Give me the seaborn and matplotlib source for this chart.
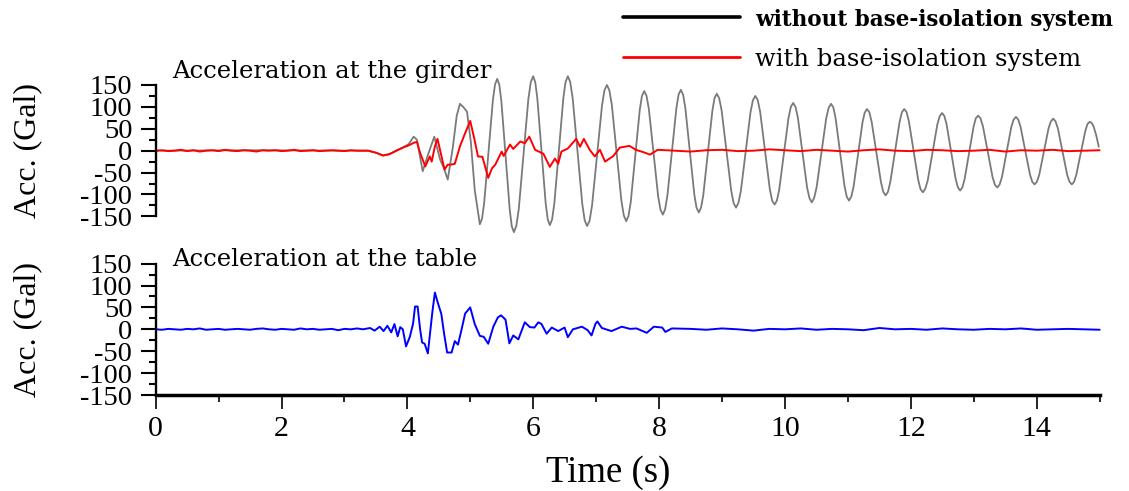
import numpy as np
import pandas as pd
import matplotlib
matplotlib.use("Agg")
import matplotlib.pyplot as plt
import seaborn as sns
from matplotlib.lines import Line2D
from matplotlib.ticker import MultipleLocator

# ---------------- data ----------------
series_labels = ["without base-isolation system", "with base-isolation system"]
panel_titles = ["Acceleration at the girder", "Acceleration at the table"]
y_ticks = [-150, -100, -50, 0, 50, 100, 150]
x_ticks = [0, 2, 4, 6, 8, 10, 12, 14]

# girder, without base isolation (grey)
girder_wo_t = [0.0, 1.5, 3.0, 3.376, 3.509, 3.611, 3.713, 3.815, 3.927, 4.019,
               4.100, 4.151, 4.243, 4.325, 4.427, 4.519, 4.580, 4.641, 4.723, 4.784,
               4.835, 4.886, 4.947, 5.008, 5.070, 5.151,
               5.186, 5.220, 5.289, 5.358, 5.392, 5.427,
               5.460, 5.493, 5.560, 5.626, 5.659, 5.692,
               5.730, 5.769, 5.845, 5.922, 5.960, 5.998,
               6.031, 6.064, 6.131, 6.197, 6.230, 6.263,
               6.299, 6.335, 6.406, 6.478, 6.513, 6.549,
               6.587, 6.626, 6.702, 6.779, 6.817, 6.855,
               6.895, 6.934, 7.013, 7.092, 7.131, 7.171,
               7.209, 7.248, 7.324, 7.401, 7.439, 7.477,
               7.513, 7.549, 7.620, 7.692, 7.727, 7.763,
               7.800, 7.837, 7.911, 7.985, 8.022, 8.059,
               8.095, 8.131, 8.202, 8.274, 8.309, 8.345,
               8.381, 8.416, 8.488, 8.559, 8.594, 8.630,
               8.666, 8.702, 8.773, 8.845, 8.880, 8.916,
               8.954, 8.993, 9.069, 9.146, 9.184, 9.222,
               9.260, 9.299, 9.375, 9.452, 9.490, 9.528,
               9.566, 9.605, 9.681, 9.758, 9.796, 9.834,
               9.871, 9.908, 9.982, 10.056, 10.093, 10.130,
               10.167, 10.204, 10.278, 10.351, 10.388, 10.425,
               10.463, 10.502, 10.579, 10.655, 10.694, 10.732,
               10.768, 10.803, 10.875, 10.946, 10.981, 11.017,
               11.053, 11.089, 11.160, 11.232, 11.267, 11.303,
               11.340, 11.377, 11.451, 11.525, 11.562, 11.599,
               11.636, 11.673, 11.747, 11.821, 11.858, 11.895,
               11.932, 11.969, 12.043, 12.117, 12.154, 12.191,
               12.229, 12.268, 12.344, 12.421, 12.459, 12.497,
               12.533, 12.568, 12.640, 12.711, 12.746, 12.782,
               12.818, 12.854, 12.925, 12.997, 13.032, 13.068,
               13.106, 13.145, 13.221, 13.298, 13.336, 13.374,
               13.411, 13.448, 13.522, 13.596, 13.633, 13.670,
               13.707, 13.744, 13.818, 13.892, 13.929, 13.966,
               14.003, 14.040, 14.114, 14.188, 14.225, 14.262,
               14.299, 14.336, 14.410, 14.484, 14.521, 14.558,
               14.594, 14.629, 14.701, 14.772, 14.807, 14.843,
               14.875, 14.905, 14.946, 14.986]
girder_wo_acc = [0, 1, 0, 0, -5, -11, -8, 0, 7, 15,
                 32, 25, -47, -10, 32, -20, -40, -66, 9, 80,
                 107, 100, 89, 20, -90, -168,
                 -155, -119, -2, 115, 151, 164,
                 151, 113, -11, -135, -173, -186,
                 -172, -134, -8, 118, 156, 170,
                 157, 120, 0, -120, -157, -170,
                 -157, -120, 0, 120, 157, 170,
                 157, 120, -1, -122, -159, -172,
                 -160, -125, -11, 103, 138, 150,
                 138, 105, -5, -115, -148, -161,
                 -149, -117, -12, 93, 125, 136,
                 125, 95, -5, -105, -135, -146,
                 -134, -103, -3, 97, 128, 139,
                 128, 98, -1, -100, -130, -141,
                 -130, -101, -5, 90, 120, 130,
                 120, 92, 0, -92, -120, -130,
                 -119, -92, -2, 88, 115, 125,
                 116, 89, 1, -87, -114, -123,
                 -114, -89, -7, 75, 100, 109,
                 100, 76, -4, -84, -108, -118,
                 -108, -84, -5, 74, 98, 107,
                 99, 75, -3, -81, -105, -114,
                 -105, -83, -9, 65, 87, 95,
                 88, 66, -3, -72, -94, -102,
                 -94, -72, -3, 66, 88, 95,
                 88, 67, 0, -67, -88, -95,
                 -87, -68, -4, 60, 79, 86,
                 79, 60, -2, -64, -83, -91,
                 -84, -65, -5, 55, 74, 80,
                 74, 56, -2, -60, -78, -84,
                 -77, -60, -3, 54, 71, 77,
                 71, 54, 0, -54, -71, -77,
                 -71, -55, -2, 51, 67, 73,
                 67, 51, -2, -55, -71, -77,
                 -71, -55, -5, 45, 61, 66,
                 63, 55, 35, 9]

# girder, with base isolation (red)
girder_w_quiet_t = list(np.round(np.arange(0.0, 3.35, 0.1), 2))
girder_w_quiet_acc = [0, 1, -1, 0, 2, -1, 1, -2, 0, 1, -1, 2, 0, -1, 1, 0, -2,
                      1, 0, 1, -1, 0, 2, -1, 0, 1, -1, 0, 1, 0, -1, 1, 0, 0]
girder_w_event_t = [3.376, 3.509, 3.611, 3.713, 3.815, 3.927, 4.019, 4.100, 4.151, 4.202,
                    4.284, 4.356, 4.386, 4.437, 4.478, 4.529, 4.590, 4.641, 4.682, 4.753,
                    4.835, 4.917, 4.998, 5.059, 5.121, 5.192, 5.284, 5.345, 5.396, 5.498,
                    5.529, 5.631, 5.682, 5.794, 5.865, 5.937, 6.029, 6.161, 6.263, 6.345,
                    6.396, 6.447, 6.549, 6.682, 6.743, 6.804, 6.896, 6.978, 7.059, 7.141,
                    7.273, 7.375, 7.528, 7.630, 7.742, 7.855, 7.977]
girder_w_event_acc = [0, -5, -11, -8, -1, 7, 12, 18, 20, -5,
                      -36, -13, -25, 10, 27, -5, -43, -32, -32, -30,
                      10, 40, 68, 30, -13, -14, -62, -40, -32, -2,
                      -12, 14, 4, 21, 17, 32, 2, -7, -37, -18,
                      -30, -2, 5, 27, 9, 27, 2, -13, 2, -25,
                      -12, 7, 11, 2, -3, -9, 2]
girder_w_tail_t = list(np.round(np.arange(8.25, 15.01, 0.25), 2))
girder_w_tail_acc = [0, -2, 1, 2, -1, 0, 3, 1, -1, 2, 0, -2, 1, 3,
                     0, -1, 2, 1, -1, 0, 2, -2, 1, 0, 2, -1, 0, 1]

# shaking table (blue)
table_quiet_t = list(np.round(np.arange(0.0, 3.25, 0.1), 2))
table_quiet_acc = [0, -1, 1, 0, -1, 1, 0, 2, -1, 0, 1, -1, 0, 1, 0, -1, 1,
                   2, 0, -1, 1, 0, -1, 2, 0, 1, -1, 0, 1, -2, 1, 0, 2]
table_event_t = [3.295, 3.407, 3.478, 3.560, 3.621, 3.682, 3.743, 3.794, 3.845, 3.886,
                 3.927, 3.978, 4.039, 4.090, 4.121, 4.162, 4.202, 4.233, 4.274, 4.325,
                 4.376, 4.396, 4.437, 4.478, 4.539, 4.580, 4.631, 4.702, 4.753, 4.804,
                 4.866, 4.917, 4.998, 5.070, 5.151, 5.212, 5.284, 5.365, 5.437, 5.488,
                 5.559, 5.620, 5.682, 5.763, 5.865, 5.947, 6.018, 6.080, 6.131, 6.212,
                 6.294, 6.396, 6.498, 6.549, 6.630, 6.773, 6.865, 6.926, 6.987, 7.018,
                 7.090, 7.243, 7.406, 7.538, 7.641, 7.804, 7.916, 8.049, 8.100, 8.202]
table_event_acc = [0, 3, -3, 6, -4, 8, -7, 12, -16, 5,
                   0, -39, -17, 13, 52, 52, 0, -30, -33, -55,
                   13, 39, 84, 63, 35, -7, -53, -53, -27, -35,
                   3, 36, 50, 12, -15, -17, -33, 6, 27, 32,
                   22, -32, -14, -23, 16, 5, 4, 16, 12, -10,
                   4, -4, 4, -18, 0, 6, -2, -14, 12, 18,
                   3, -4, 6, 1, 2, -8, 6, 4, -6, 2]
table_tail_t = list(np.round(np.arange(8.5, 15.01, 0.25), 2))
table_tail_acc = [1, -1, 2, 0, -3, 1, 0, 2, -1, 1, 0, -2, 3, 0,
                  1, -1, 2, 0, -1, 1, 0, 2, -1, 0, 1, 0, -1]

# ---------------- tables for seaborn ----------------
df_wo = pd.DataFrame({"t": girder_wo_t, "acc": girder_wo_acc})
df_w = pd.DataFrame({"t": girder_w_quiet_t + girder_w_event_t + girder_w_tail_t,
                     "acc": girder_w_quiet_acc + girder_w_event_acc + girder_w_tail_acc})
df_tab = pd.DataFrame({"t": table_quiet_t + table_event_t + table_tail_t,
                       "acc": table_quiet_acc + table_event_acc + table_tail_acc})

# ---------------- style ----------------
sns.set_style("ticks")
plt.rcParams["font.family"] = ["Liberation Serif", "DejaVu Serif"]
plt.rcParams["axes.unicode_minus"] = False
for key in ("text.color", "axes.labelcolor", "xtick.color", "ytick.color",
            "axes.edgecolor"):
    plt.rcParams[key] = "black"

fig = plt.figure(figsize=(11.29, 4.91), dpi=100)
L, W, H = 0.1379, 0.8361, 0.2676
ax1 = fig.add_axes([L, 0.5593, W, H])
ax2 = fig.add_axes([L, 0.1955, W, H])

GREY = "#7a7a7a"
sns.lineplot(data=df_wo, x="t", y="acc", ax=ax1, color=GREY, linewidth=1.3,
             estimator=None, sort=False)
sns.lineplot(data=df_w, x="t", y="acc", ax=ax1, color="#ff0000", linewidth=1.4,
             estimator=None, sort=False)
sns.lineplot(data=df_tab, x="t", y="acc", ax=ax2, color="#0000ff", linewidth=1.4,
             estimator=None, sort=False)
for ax in (ax1, ax2):
    for ln in ax.lines:
        ln.set_clip_on(False)

tick_fs = 20.5
for ax in (ax1, ax2):
    ax.set_xlim(0, 15)
    ax.set_ylim(-150, 150)
    ax.set_yticks(y_ticks)
    ax.yaxis.set_minor_locator(MultipleLocator(25))
    ax.tick_params(axis="y", which="major", direction="out", length=10.8, width=1.5,
                   pad=6, labelsize=tick_fs, colors="black")
    ax.tick_params(axis="y", which="minor", direction="out", length=5, width=1.5,
                   colors="black")
    ax.spines["top"].set_visible(False)
    ax.spines["right"].set_visible(False)
    ax.spines["left"].set_linewidth(1.7)
    ax.spines["left"].set_color("black")
    ax.set_ylabel("Acc. (Gal)", fontsize=23)
    ax.yaxis.set_label_coords(-0.12, 0.5)
    ax.set_facecolor("none")

ax1.spines["bottom"].set_visible(False)
ax1.tick_params(axis="x", which="both", bottom=False, labelbottom=False)
ax1.set_xlabel("")

ax2.set_xticks(x_ticks)
ax2.xaxis.set_minor_locator(MultipleLocator(1))
ax2.tick_params(axis="x", which="major", direction="out", length=10, width=1.2,
                pad=5, labelsize=21.5, colors="black")
ax2.tick_params(axis="x", which="minor", direction="out", length=5, width=1.2,
                colors="black")
ax2.spines["bottom"].set_linewidth(2.5)
ax2.spines["bottom"].set_color("black")
ax2.set_xlabel("Time (s)", fontsize=26.5)
ax2.xaxis.set_label_coords(0.479, -0.46)

ax1.text(0.017, 1.053, panel_titles[0], transform=ax1.transAxes, ha="left",
         va="baseline", family="DejaVu Serif", fontsize=17.5)
ax2.text(0.017, 0.982, panel_titles[1], transform=ax2.transAxes, ha="left",
         va="baseline", family="DejaVu Serif", fontsize=17.5)

handles = [Line2D([], [], color="black", linewidth=2.6),
           Line2D([], [], color="#ff0000", linewidth=2.0)]
leg = fig.legend(handles, series_labels, loc="upper left",
                 bbox_to_anchor=(0.5518, 0.982), frameon=False,
                 prop={"family": "DejaVu Serif", "size": 17.5},
                 handlelength=4.8, handletextpad=0.65, labelspacing=0.7,
                 borderpad=0, borderaxespad=0)
leg.get_texts()[0].set_fontweight("bold")
leg.get_texts()[0].set_fontsize(15.5)

fig.savefig("out.png", dpi=100)
